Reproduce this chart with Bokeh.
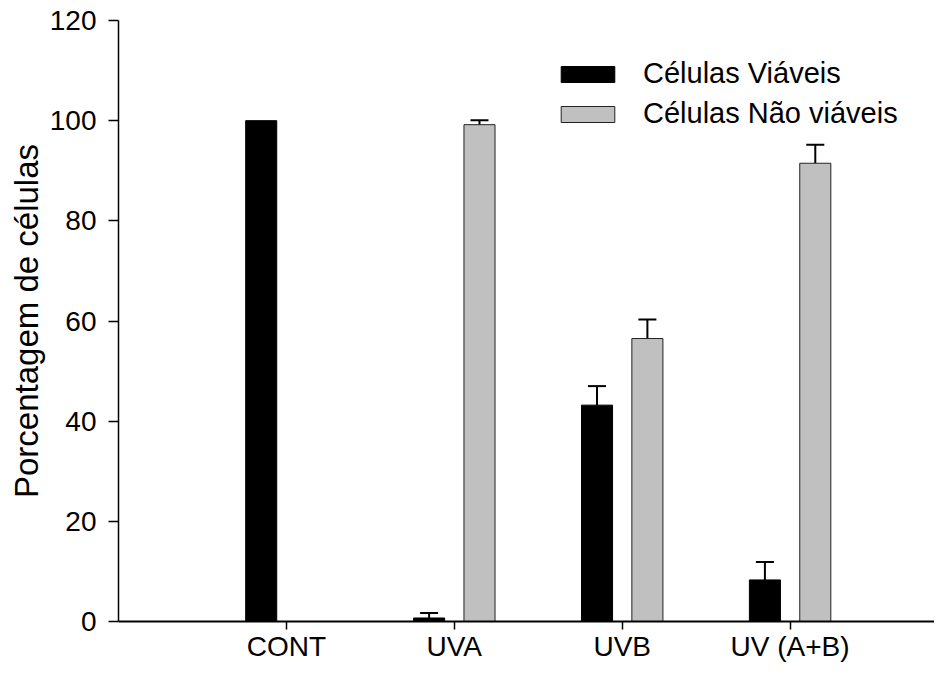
from bokeh.plotting import figure
from bokeh.models import (ColumnDataSource, Range1d, FixedTicker, Whisker, TeeHead,
                          Legend, LegendItem)
from bokeh.embed import file_html
from bokeh.resources import INLINE

# ---- data ----
categories = ["CONT", "UVA", "UVB", "UV (A+B)"]
viaveis = [100.0, 0.7, 43.2, 8.3]
viaveis_err = [0.0, 1.0, 3.8, 3.6]
nao_viaveis = [0.0, 99.2, 56.5, 91.5]
nao_viaveis_err = [0.0, 0.9, 3.8, 3.7]
y_ticks = [0, 20, 40, 60, 80, 100, 120]

FONT = "Liberation Sans"
GRAY = "#C0C0C0"
OFFSET = 0.15
BAR_W = 0.185

pos = [i + 1 for i in range(len(categories))]

p = figure(width=934, height=664, output_backend="svg", toolbar_location=None,
           x_range=Range1d(0, 4.86), y_range=Range1d(0, 120),
           min_border_left=118, min_border_right=0, min_border_top=20,
           min_border_bottom=40)
p.outline_line_color = None
p.grid.visible = False
p.background_fill_color = "white"
p.border_fill_color = "white"

src_v = ColumnDataSource(dict(x=[x - OFFSET for x in pos], top=viaveis))
src_n = ColumnDataSource(dict(x=[x + OFFSET for x in pos], top=nao_viaveis))

r_v = p.vbar(x="x", top="top", width=BAR_W, bottom=0, source=src_v,
             fill_color="black", line_color="black", line_width=1)
r_n = p.vbar(x="x", top="top", width=BAR_W, bottom=0, source=src_n,
             fill_color=GRAY, line_color="#222222", line_width=1)

# error bars (upper only), skipping zero errors
def add_err(xs, tops, errs):
    bx, lo, up = [], [], []
    for x, t, e in zip(xs, tops, errs):
        if e > 0:
            bx.append(x); lo.append(t); up.append(t + e)
    s = ColumnDataSource(dict(base=bx, lower=lo, upper=up))
    w = Whisker(base="base", lower="lower", upper="upper", source=s,
                line_color="black", line_width=2,
                upper_head=TeeHead(size=18, line_width=2, line_color="black"),
                lower_head=None)
    p.add_layout(w)

add_err([x - OFFSET for x in pos], viaveis, viaveis_err)
add_err([x + OFFSET for x in pos], nao_viaveis, nao_viaveis_err)

# axes
xa = p.xaxis[0]
xa.ticker = FixedTicker(ticks=pos)
xa.major_label_overrides = {x: c for x, c in zip(pos, categories)}
xa.minor_tick_line_color = None
xa.major_tick_in = 0
xa.major_tick_out = 8
xa.major_label_standoff = 1
xa.axis_line_width = 2
xa.major_tick_line_width = 1.5
xa.major_label_text_font = FONT
xa.major_label_text_font_size = "28px"
xa.major_label_text_color = "black"

ya = p.yaxis[0]
ya.ticker = FixedTicker(ticks=y_ticks)
ya.minor_tick_line_color = None
ya.major_tick_in = 0
ya.major_tick_out = 10
ya.major_label_standoff = 12
ya.axis_line_width = 1.5
ya.major_tick_line_width = 1.5
ya.major_label_text_font = FONT
ya.major_label_text_font_size = "28px"
ya.major_label_text_color = "black"
ya.axis_label = "Porcentagem de células"
ya.axis_label_text_font = FONT
ya.axis_label_text_font_size = "33px"
ya.axis_label_text_font_style = "normal"
ya.axis_label_text_color = "black"
ya.axis_label_standoff = 2

legend = Legend(items=[LegendItem(label="Células Viáveis", renderers=[r_v]),
                       LegendItem(label="Células Não viáveis", renderers=[r_n])],
                location=(436, 491), orientation="vertical",
                glyph_width=67, glyph_height=20, label_standoff=22,
                spacing=7, padding=0, margin=0,
                border_line_alpha=0, background_fill_alpha=0,
                label_text_font=FONT, label_text_font_size="29px",
                label_text_color="black")
p.add_layout(legend)

open("out.html", "w").write(file_html(p, INLINE))
